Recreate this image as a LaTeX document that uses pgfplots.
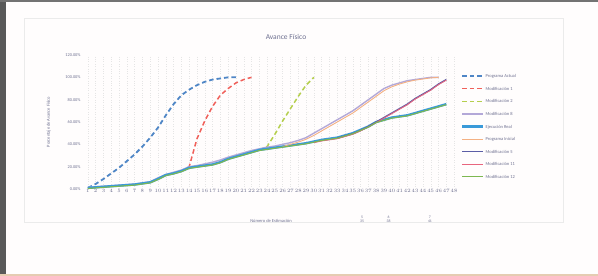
\documentclass[border=0pt]{standalone}
\usepackage{pgfplots}
\pgfplotsset{compat=1.18}
\usepackage{fontspec}
\setmainfont{Carlito}
\definecolor{cActual}{HTML}{4F86C6}
\definecolor{cMod1}{HTML}{F0605A}
\definecolor{cMod2}{HTML}{B5CF4E}
\definecolor{cMod8}{HTML}{B3A8D8}
\definecolor{cEjec}{HTML}{3A9AD9}
\definecolor{cIni}{HTML}{F4B183}
\definecolor{cMod5}{HTML}{5B5EA6}
\definecolor{cMod11}{HTML}{E8657E}
\definecolor{cMod12}{HTML}{7DB851}
\definecolor{txt}{HTML}{6E7090}
\begin{document}
\begin{tikzpicture}[x=1pt,y=1pt]
\useasboundingbox (0,0) rectangle (598,276);
\fill[white!97!pink] (0,0) rectangle (598,276);
\fill[black!65] (0,0) rectangle (6,276);
\fill[black!55] (0,274) rectangle (598,276);
\fill[brown!40] (0,0) rectangle (598,2);
\draw[black!8, line width=0.6pt] (24,54) rectangle (563,258);
\node[text=txt, font=\fontsize{7.5}{9}\selectfont] at (286,239) {Avance Físico};
\begin{axis}[
  at={(84pt,87pt)}, anchor=south west,
  scale only axis, width=374pt, height=134pt,
  xmin=0.5, xmax=48.5, ymin=0, ymax=120,
  clip=false,
  axis line style={draw=none},
  tick style={draw=none},
  xtick={1,...,48},
  ytick={0,20,40,60,80,100,120},
  yticklabels={0.00\%,20.00\%,40.00\%,60.00\%,80.00\%,100.00\%,120.00\%},
  xticklabel style={font=\fontsize{3.8}{4}\selectfont, text=txt, inner sep=0.5pt},
  yticklabel style={font=\fontsize{4.3}{5}\selectfont, text=txt},
  xmajorgrids, ymajorgrids=false,
  major grid style={black!10, dotted, line width=0.4pt},
  xlabel={Número de Estimación},
  xlabel style={font=\fontsize{4.5}{5}\selectfont, text=txt, yshift=-22pt},
  ylabel={Porcentaje de Avance Físico},
  ylabel style={font=\fontsize{4.5}{5}\selectfont, text=txt, yshift=8pt},
  legend cell align=left,
  legend style={at={(1.008,0.87)}, anchor=north west, draw=none, fill=none,
    font=\fontsize{4.5}{5}\selectfont, text=txt, inner sep=0pt,
    nodes={inner sep=1pt, text height=4pt, text depth=1pt}, row sep=5.6pt},
  legend image code/.code={\draw[#1] (0pt,0pt) -- (21pt,0pt);},
]
% Programa Actual
\addplot[cActual, line width=1.8pt, dash pattern=on 4.5pt off 3pt] coordinates {
(1,1)(2,4.5)(3,9)(4,14)(5,19)(6,25)(7,31)(8,38)(9,46)(10,55)(11,66)(12,76)(13,84)(14,89)(15,93)(16,96)(17,98)(18,99)(19,100)(20,100)};
\addlegendentry{Programa Actual}
% Modificacion 1
\addplot[cMod1, line width=1.5pt, dash pattern=on 4.5pt off 3pt] coordinates {
(13,16)(14,20)(15,45)(16,61)(17,74)(18,84)(19,90)(20,95)(21,98)(22,100)};
\addlegendentry{Modificación 1}
% Modificacion 2
\addplot[cMod2, line width=1.5pt, dash pattern=on 4.5pt off 3pt] coordinates {
(23,35)(24,38)(25,49)(26,61)(27,72)(28,83)(29,93)(30,100)};
\addlegendentry{Modificación 2}
% Modificacion 8
\addplot[cMod8, line width=1.4pt] coordinates {
(1,1.5)(2,2)(3,2.5)(4,3)(5,3.5)(6,4)(7,4.5)(8,5.5)(9,6.5)(10,10)(11,13)(12,15)(13,17)(14,20)(15,21)(16,22.5)(17,24)(18,26)(19,28.5)(20,30.5)(21,32.5)(22,34.5)(23,36)(24,37.5)(25,38.5)(26,40)(27,41.5)(28,43.5)(29,46)(30,50)(31,54)(32,58)(33,62)(34,66)(35,70)(36,75)(37,80)(38,85)(39,90)(40,93)(41,95)(42,97)(43,98)(44,99)(45,100)(46,100)};
\addlegendentry{Modificación 8}
% Ejecucion Real
\addplot[cEjec, line width=2.4pt] coordinates {
(1,1)(2,1.5)(3,2)(4,2.5)(5,3)(6,3.5)(7,4)(8,5)(9,6)(10,9)(11,12.5)(12,14)(13,16)(14,19)(15,20)(16,21)(17,22)(18,24)(19,27)(20,29)(21,31)(22,33)(23,35)(24,36)(25,37)(26,38)(27,39)(28,40)(29,41)(30,42.5)(31,44)(32,45)(33,46)(34,48)(35,50)(36,53)(37,56)(38,60)(39,62)(40,64)(41,65)(42,66)(43,68)(44,70)(45,72)(46,74)(47,76)};
\addlegendentry{Ejecución Real}
% Programa Inicial
\addplot[cIni, line width=0.9pt] coordinates {
(26,38)(27,40)(28,42)(29,44.5)(30,48)(31,52)(32,56)(33,60)(34,64)(35,68)(36,73)(37,78)(38,83)(39,88)(40,91.5)(41,94)(42,96)(43,97.5)(44,98.5)(45,99.5)(46,100)};
\addlegendentry{Programa Inicial}
% Modificacion 5
\addplot[cMod5, line width=1.4pt] coordinates {
(33,45.5)(34,47.5)(35,49.5)(36,52.5)(37,56)(38,60)(39,64)(40,68)(41,72)(42,76)(43,81)(44,85)(45,89)(46,94)(47,98)};
\addlegendentry{Modificación 5}
% Modificacion 11
\addplot[cMod11, line width=0.9pt] coordinates {
(30,41.5)(31,43)(32,44)(33,45)(34,47)(35,49)(36,52)(37,55.5)(38,59.5)(39,63.5)(40,67.5)(41,71.5)(42,75.5)(43,80.5)(44,84.5)(45,88.5)(46,93.5)(47,97.5)};
\addlegendentry{Modificación 11}
% Modificacion 12
\addplot[cMod12, line width=1.1pt] coordinates {
(1,0.5)(2,1)(3,1.5)(4,2)(5,2.5)(6,3)(7,3.5)(8,4.5)(9,5.5)(10,8.5)(11,12)(12,13.5)(13,15.5)(14,18.5)(15,19.5)(16,20.5)(17,21.5)(18,23.5)(19,26.5)(20,28.5)(21,30.5)(22,32.5)(23,34.5)(24,35.5)(25,36.5)(26,37.5)(27,38.5)(28,39.5)(29,40.5)(30,42)(31,43.5)(32,44.5)(33,45.5)(34,47.5)(35,49.5)(36,52.5)(37,55.5)(38,59.5)(39,61.5)(40,63.5)(41,64.5)(42,65.5)(43,67.5)(44,69.5)(45,71.5)(46,73.5)(47,75.5)};
\addlegendentry{Modificación 12}
\node[text=txt, font=\fontsize{3.8}{4}\selectfont, align=center] at (axis cs:36.2,-27) {5\\35};
\node[text=txt, font=\fontsize{3.8}{4}\selectfont, align=center] at (axis cs:39.6,-27) {6\\38};
\node[text=txt, font=\fontsize{3.8}{4}\selectfont, align=center] at (axis cs:44.9,-27) {7\\41};
\end{axis}
\end{tikzpicture}
\end{document}
